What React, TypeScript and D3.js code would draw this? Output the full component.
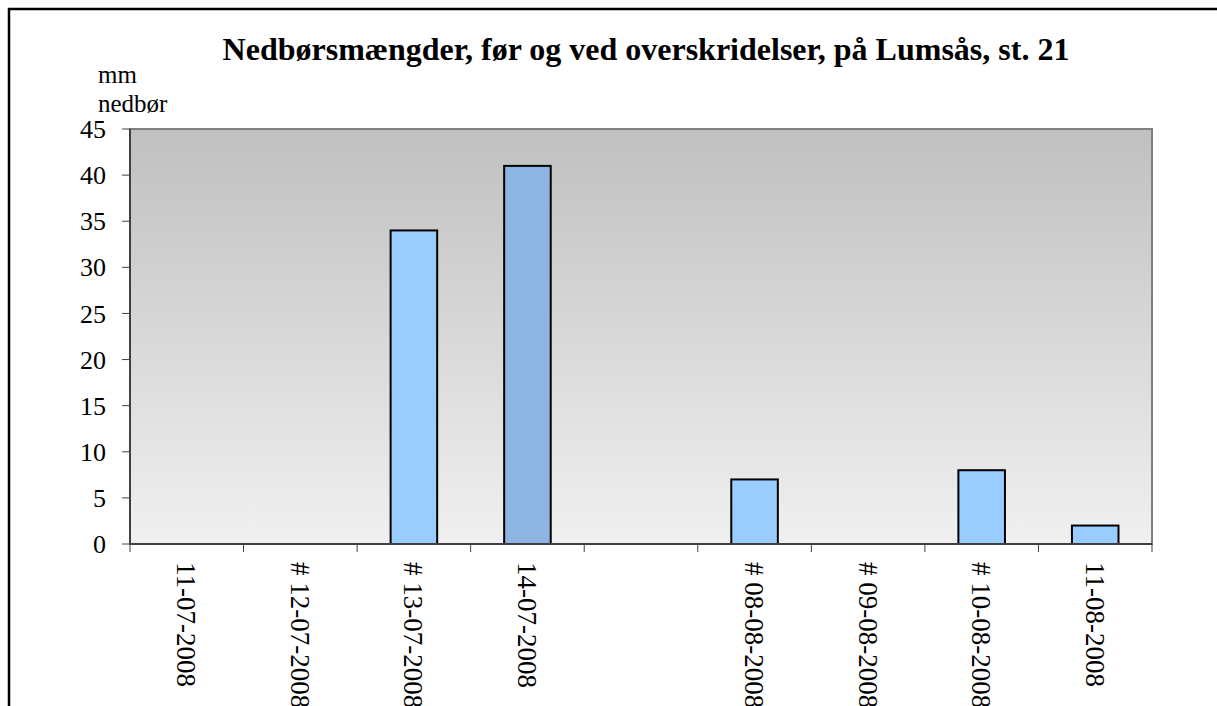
import React, { useRef, useEffect } from "react";
import * as d3 from "d3";

const categories = [
  "11-07-2008",
  "# 12-07-2008",
  "# 13-07-2008",
  "14-07-2008",
  "",
  "# 08-08-2008",
  "# 09-08-2008",
  "# 10-08-2008",
  "11-08-2008",
];
const values = [0, 0, 34, 41, 0, 7, 0, 8, 2];
const highlighted = ["14-07-2008"];
const yTicks = [0, 5, 10, 15, 20, 25, 30, 35, 40, 45];

const App: React.FC = () => {
  const svgRef = useRef<SVGSVGElement | null>(null);
  const width = 1217;
  const height = 706;

  useEffect(() => {
    if (!svgRef.current) return;
    const svg = d3.select(svgRef.current);
    svg.selectAll("*").remove();

    const left = 130;
    const right = 1152;
    const top = 129;
    const bottom = 544;
    const font = "'Liberation Serif', 'Times New Roman', serif";

    // outer frame
    svg
      .append("rect")
      .attr("x", 9)
      .attr("y", 9)
      .attr("width", width + 20)
      .attr("height", height + 20)
      .attr("fill", "white")
      .attr("stroke", "black")
      .attr("stroke-width", 2.5);

    const defs = svg.append("defs");
    const grad = defs
      .append("linearGradient")
      .attr("id", "bg")
      .attr("x1", 0)
      .attr("y1", 0)
      .attr("x2", 0)
      .attr("y2", 1);
    grad.append("stop").attr("offset", "0%").attr("stop-color", "#c0c0c0");
    grad.append("stop").attr("offset", "100%").attr("stop-color", "#f0f0f0");

    const x = d3
      .scaleBand<number>()
      .domain(d3.range(categories.length))
      .range([left, right]);
    const y = d3.scaleLinear().domain([0, 45]).range([bottom, top]);

    // plot area
    svg
      .append("rect")
      .attr("x", left)
      .attr("y", top)
      .attr("width", right - left)
      .attr("height", bottom - top)
      .attr("fill", "url(#bg)")
      .attr("stroke", "#808080")
      .attr("stroke-width", 2);

    // bars
    const bw = x.bandwidth() * 0.41;
    svg
      .append("g")
      .selectAll("rect")
      .data(values.map((v, i) => ({ v, i })).filter((d) => d.v > 0))
      .join("rect")
      .attr("x", (d) => x(d.i)! + (x.bandwidth() - bw) / 2)
      .attr("y", (d) => y(d.v))
      .attr("width", bw)
      .attr("height", (d) => y(0) - y(d.v))
      .attr("fill", (d) =>
        highlighted.includes(categories[d.i]) ? "#8eb4e3" : "#99ccff"
      )
      .attr("stroke", "black")
      .attr("stroke-width", 2);

    // y axis
    const yAxis = svg.append("g");
    yAxis
      .append("line")
      .attr("x1", left)
      .attr("x2", left)
      .attr("y1", top)
      .attr("y2", bottom)
      .attr("stroke", "#404040")
      .attr("stroke-width", 2);
    yTicks.forEach((t) => {
      yAxis
        .append("line")
        .attr("x1", left - 8)
        .attr("x2", left)
        .attr("y1", y(t))
        .attr("y2", y(t))
        .attr("stroke", "#404040")
        .attr("stroke-width", 1);
      yAxis
        .append("text")
        .attr("x", left - 24)
        .attr("y", y(t))
        .attr("dy", "0.35em")
        .attr("text-anchor", "end")
        .attr("font-family", font)
        .attr("font-size", 26)
        .text(t);
    });

    // x axis
    const xAxis = svg.append("g");
    xAxis
      .append("line")
      .attr("x1", left)
      .attr("x2", right)
      .attr("y1", bottom)
      .attr("y2", bottom)
      .attr("stroke", "#404040")
      .attr("stroke-width", 2);
    d3.range(categories.length + 1).forEach((i) => {
      const xp = i < categories.length ? x(i)! : right;
      xAxis
        .append("line")
        .attr("x1", xp)
        .attr("x2", xp)
        .attr("y1", bottom)
        .attr("y2", bottom + 8)
        .attr("stroke", "#404040")
        .attr("stroke-width", 1);
    });
    categories.forEach((c, i) => {
      const cx = x(i)! + x.bandwidth() / 2;
      xAxis
        .append("text")
        .attr("transform", `translate(${cx},562) rotate(90)`)
        .attr("dy", "0.35em")
        .attr("text-anchor", "start")
        .attr("font-family", font)
        .attr("font-size", 27)
        .text(c);
    });

    // title and axis label
    svg
      .append("text")
      .attr("x", 646)
      .attr("y", 60)
      .attr("text-anchor", "middle")
      .attr("font-family", font)
      .attr("font-size", 32)
      .attr("font-weight", "bold")
      .text("Nedbørsmængder, før og ved overskridelser, på Lumsås, st. 21");
    svg
      .append("text")
      .attr("x", 98)
      .attr("y", 83)
      .attr("font-family", font)
      .attr("font-size", 25)
      .text("mm");
    svg
      .append("text")
      .attr("x", 98)
      .attr("y", 112)
      .attr("font-family", font)
      .attr("font-size", 25)
      .text("nedbør");
  }, []);

  return (
    <div style={{ position: "absolute", left: 0, top: 0, overflow: "hidden" }}>
      <svg ref={svgRef} width={width} height={height} style={{ display: "block" }}></svg>
    </div>
  );
};

export default App;
